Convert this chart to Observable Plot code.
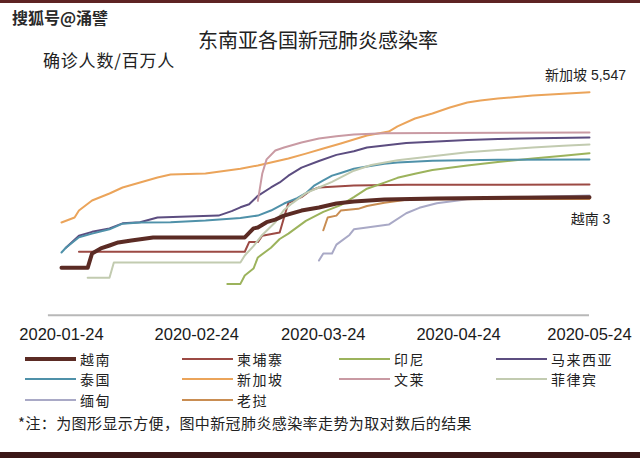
<!DOCTYPE html>
<html><head><meta charset="utf-8">
<script src="https://cdn.jsdelivr.net/npm/d3@7"></script>
<script src="https://cdn.jsdelivr.net/npm/@observablehq/plot@0.6"></script>
<style>
html,body{margin:0;padding:0;background:#fff;}
#page{position:relative;width:640px;height:458px;overflow:hidden;font-family:"Noto Sans CJK SC",sans-serif;color:#222;}
.abs{position:absolute;white-space:nowrap;line-height:1;}
.lg{position:absolute;display:flex;align-items:center;font-size:14px;letter-spacing:1.5px;line-height:1;white-space:nowrap;}
.lg span.sw{display:inline-block;width:51px;margin-right:4px;}
</style></head><body><div id="page">
<div class="abs" style="left:0;top:0;width:640px;height:3px;background:#5e2323"></div>
<div class="abs" style="left:12px;top:9px;font-size:16px;font-weight:700;color:#2a2a2a;">搜狐号@涌譬</div>
<div class="abs" style="left:0;width:636px;text-align:center;top:30px;font-size:20px;">东南亚各国新冠肺炎感染率</div>
<div class="abs" style="left:43px;top:51px;font-size:17px;letter-spacing:0.8px;">确诊人数/百万人</div>
<div id="chart" class="abs" style="left:0;top:70px"></div>
<div id="legend"></div>
<div class="abs" style="left:18px;top:415px;font-size:15px;letter-spacing:0.4px;">*注：为图形显示方便，图中新冠肺炎感染率走势为取对数后的结果</div>
<div class="abs" style="left:0;top:452px;width:640px;height:6px;background:#3b1717"></div>
</div>
<script>
// confirmed cases per million (log scale in chart)
const vietnam = [["2020-01-24",0.019],["2020-01-30",0.019],["2020-01-31",0.053],["2020-02-02",0.076],["2020-02-04",0.094],["2020-02-06",0.117],["2020-02-09",0.135],["2020-02-14",0.167],["2020-03-06",0.167],["2020-03-08",0.32],["2020-03-09",0.34],["2020-03-11",0.5],["2020-03-13",0.6],["2020-03-15",0.8],["2020-03-19",1.15],["2020-03-23",1.43],["2020-03-27",1.9],["2020-03-31",2.2],["2020-04-07",2.55],["2020-04-19",2.75],["2020-05-24",3]];
const cambodia = [["2020-01-28",0.06],["2020-03-06",0.06],["2020-03-07",0.12],["2020-03-09",0.12],["2020-03-10",0.19],["2020-03-14",0.24],["2020-03-15",0.7],["2020-03-16",2.0],["2020-03-19",3.0],["2020-03-21",4.8],["2020-03-23",6.0],["2020-03-31",6.9],["2020-04-12",7.3],["2020-05-24",7.4]];
const indonesia = [["2020-03-02",0.006],["2020-03-05",0.006],["2020-03-06",0.011],["2020-03-08",0.018],["2020-03-09",0.04],["2020-03-12",0.08],["2020-03-14",0.15],["2020-03-16",0.22],["2020-03-20",0.55],["2020-03-24",1.05],["2020-03-28",1.7],["2020-03-31",3],["2020-04-03",5.5],["2020-04-07",8.5],["2020-04-10",12],["2020-04-14",16],["2020-04-18",21],["2020-04-26",29],["2020-05-03",37],["2020-05-11",48],["2020-05-18",58],["2020-05-24",70]];
const malaysia = [["2020-01-25",0.08],["2020-01-28",0.19],["2020-01-31",0.25],["2020-02-04",0.32],["2020-02-07",0.46],["2020-02-11",0.5],["2020-02-15",0.7],["2020-02-29",0.8],["2020-03-03",1.1],["2020-03-05",1.45],["2020-03-07",1.8],["2020-03-09",3.3],["2020-03-12",6],["2020-03-14",8.6],["2020-03-16",14],["2020-03-19",25],["2020-03-23",40],["2020-03-27",62],["2020-03-31",80],["2020-04-03",105],["2020-04-07",122],["2020-04-12",145],["2020-04-19",162],["2020-04-26",180],["2020-05-03",195],["2020-05-12",205],["2020-05-24",216]];
const thailand = [["2020-01-24",0.057],["2020-01-25",0.08],["2020-01-28",0.17],["2020-01-31",0.22],["2020-02-04",0.3],["2020-02-07",0.45],["2020-02-11",0.49],["2020-02-18",0.5],["2020-02-26",0.56],["2020-03-05",0.68],["2020-03-09",0.8],["2020-03-12",1.15],["2020-03-15",1.9],["2020-03-18",2.8],["2020-03-20",4],["2020-03-22",7],["2020-03-24",10],["2020-03-26",14],["2020-03-28",17],["2020-03-31",23],["2020-04-03",27],["2020-04-07",33],["2020-04-10",36],["2020-04-18",41],["2020-05-03",44],["2020-05-24",44.6]];
const singapore = [["2020-01-24",0.49],["2020-01-27",0.7],["2020-01-28",1.15],["2020-01-31",2.36],["2020-02-04",3.9],["2020-02-07",6],["2020-02-11",8.6],["2020-02-15",12.3],["2020-02-18",15.2],["2020-02-26",16.3],["2020-03-05",23],["2020-03-09",29],["2020-03-12",36],["2020-03-16",48],["2020-03-20",68],["2020-03-24",98],["2020-03-28",140],["2020-04-03",249],["2020-04-08",330],["2020-04-10",480],["2020-04-14",841],["2020-04-18",1200],["2020-04-22",1850],["2020-04-26",2650],["2020-04-29",3050],["2020-05-03",3520],["2020-05-11",4370],["2020-05-19",5040],["2020-05-24",5547]];
const brunei = [["2020-03-09",2.3],["2020-03-10",16],["2020-03-11",45],["2020-03-13",85],["2020-03-15",105],["2020-03-19",150],["2020-03-23",200],["2020-03-27",237],["2020-03-31",267],["2020-04-07",290],["2020-04-19",300],["2020-05-24",310]];
const philippines = [["2020-01-30",0.0093],["2020-02-04",0.0093],["2020-02-05",0.028],["2020-03-05",0.028],["2020-03-06",0.046],["2020-03-08",0.09],["2020-03-10",0.2],["2020-03-13",0.5],["2020-03-15",1.2],["2020-03-17",2],["2020-03-20",4],["2020-03-23",6],["2020-03-26",9],["2020-03-31",20],["2020-04-04",30],["2020-04-10",42],["2020-04-19",58],["2020-04-26",75],["2020-05-03",88],["2020-05-11",105],["2020-05-18",120],["2020-05-24",131]];
const myanmar = [["2020-03-23",0.032],["2020-03-24",0.053],["2020-03-26",0.053],["2020-03-27",0.1],["2020-03-30",0.2],["2020-03-31",0.3],["2020-04-03",0.34],["2020-04-08",0.42],["2020-04-12",0.95],["2020-04-15",1.4],["2020-04-19",1.95],["2020-04-26",2.6],["2020-05-03",2.9],["2020-05-24",3.4]];
const laos = [["2020-03-24",0.28],["2020-03-25",0.7],["2020-03-27",0.8],["2020-03-28",1.15],["2020-04-01",1.3],["2020-04-03",1.6],["2020-04-07",2.0],["2020-04-12",2.5],["2020-04-19",2.6],["2020-05-24",2.65]];

const countries = ["越南","柬埔寨","印尼","马来西亚","泰国","新加坡","文莱","菲律宾","缅甸","老挝"];
const seriesList = [vietnam,cambodia,indonesia,malaysia,thailand,singapore,brunei,philippines,myanmar,laos];
const colors = ["#5b2b24","#9c4a44","#9cb35c","#5c4d80","#4f91a9","#eba45a","#c99aa3","#c2cbb0","#a9a9c6","#c98d52"];
const tickDates = ["2020-01-24","2020-02-24","2020-03-24","2020-04-24","2020-05-24"];
const xStart = "2020-01-21";
const endLabelCountries = [["新加坡","5,547"],["越南","3"]];

const parse = d3.utcParse("%Y-%m-%d");
const rows = countries.flatMap((c,i) => seriesList[i].map(([d,v]) => ({country:c, date:parse(d), value:v})));
const lastOf = c => rows.filter(r => r.country === c).slice(-1)[0];
const labels = endLabelCountries.map(([c,t]) => ({...lastOf(c), text: c + " " + t}));
const yMin = Math.pow(10,-3.2), yMax = 1e4;

const chart = Plot.plot({
  width: 640, height: 280,
  marginLeft: 47.9, marginRight: 51, marginTop: 13.44, marginBottom: 35.15,
  x: {type: "utc", domain: [parse(xStart), parse(tickDates[tickDates.length-1])], ticks: tickDates.map(parse),
      tickFormat: d3.utcFormat("%Y-%m-%d"), tickSize: 0, tickPadding: 13, label: null},
  y: {type: "log", domain: [yMin, yMax], axis: null},
  color: {domain: countries, range: colors},
  style: {fontFamily: "'Liberation Sans', Arial, sans-serif", fontSize: "16.5px", color: "#1a1a1a", background: "transparent", overflow: "visible"},
  marks: [
    Plot.ruleY([yMin], {stroke: "#b8b8b8", strokeWidth: 2}),
    Plot.line(rows.filter(d => d.country !== "越南"), {x: "date", y: "value", z: "country", stroke: "country", strokeWidth: 2, curve: "linear"}),
    Plot.line(rows.filter(d => d.country === "越南"), {x: "date", y: "value", stroke: "country", strokeWidth: 4, curve: "linear"}),
    Plot.text(labels.slice(0,1), {x: "date", y: "value", text: "text", dx: -4, dy: -17, fontSize: 14, fill: "#222", fontFamily: "'Liberation Sans', 'Noto Sans CJK SC', sans-serif"}),
    Plot.text(labels.slice(1), {x: "date", y: "value", text: "text", dx: 1, dy: 22, fontSize: 14, fill: "#222", fontFamily: "'Liberation Sans', 'Noto Sans CJK SC', sans-serif"})
  ]
});
document.getElementById("chart").appendChild(chart);

const legend = document.getElementById("legend");
countries.forEach((c,i) => {
  const col = i % 4, row = Math.floor(i / 4);
  const item = document.createElement("div");
  item.className = "lg";
  item.style.left = (25 + col * 157) + "px";
  item.style.top = (351.5 + row * 20.5) + "px";
  const sw = document.createElement("span");
  sw.className = "sw";
  sw.style.height = (c === "越南" ? 4 : 2) + "px";
  sw.style.background = colors[i];
  item.appendChild(sw);
  const t = document.createElement("span");
  t.textContent = c;
  item.appendChild(t);
  legend.appendChild(item);
});
</script>
</body></html>
